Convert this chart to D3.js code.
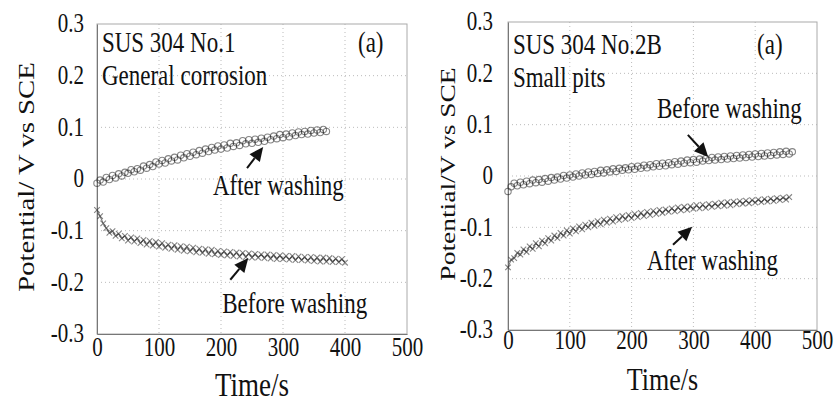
<!DOCTYPE html>
<html>
<head>
<meta charset="utf-8">
<script src="https://cdn.jsdelivr.net/npm/d3@7"></script>
<style>
  body { margin: 0; background: #fff; }
  text { font-family: "Liberation Serif", "DejaVu Serif", serif; fill: #111; }
</style>
</head>
<body>
<div id="chart"></div>
<script>
// sampling times (s)
var time = [0,5,10,15,20,25,30,35,40,45,50,55,60,65,70,75,80,85,90,95,
  100,105,110,115,120,125,130,135,140,145,150,155,160,165,170,175,180,185,190,195,
  200,205,210,215,220,225,230,235,240,245,250,255,260,265,270,275,280,285,290,295,
  300,305,310,315,320,325,330,335,340,345,350,355,360,365,370,375,380,385,390,395,
  400,405,410,415,420,425,430,435,440,445,450,455,460];

// SUS 304 No.1, potential (V vs SCE)
var leftAfter = [-0.008,-0.002,-0.006,0.003,-0.001,0.007,0.002,0.010,0.006,0.013,
  0.011,0.018,0.014,0.020,0.017,0.025,0.021,0.028,0.024,0.033,
  0.029,0.036,0.031,0.039,0.035,0.042,0.037,0.046,0.041,0.049,
  0.044,0.052,0.047,0.055,0.050,0.058,0.053,0.061,0.056,0.064,
  0.058,0.066,0.060,0.069,0.063,0.070,0.065,0.074,0.068,0.076,
  0.069,0.077,0.071,0.079,0.073,0.081,0.076,0.083,0.078,0.086,
  0.080,0.087,0.082,0.089,0.084,0.091,0.086,0.092,0.087,0.094,
  0.089,0.095,0.090,0.096,0.092];
var leftBefore = [-0.060,-0.072,-0.086,-0.095,-0.104,-0.101,-0.110,-0.106,-0.115,-0.110,
  -0.119,-0.113,-0.121,-0.115,-0.124,-0.118,-0.127,-0.120,-0.129,-0.122,
  -0.131,-0.124,-0.133,-0.127,-0.135,-0.128,-0.137,-0.130,-0.139,-0.131,
  -0.140,-0.133,-0.142,-0.135,-0.143,-0.136,-0.145,-0.137,-0.146,-0.139,
  -0.147,-0.140,-0.148,-0.141,-0.149,-0.142,-0.150,-0.143,-0.151,-0.144,
  -0.152,-0.145,-0.152,-0.146,-0.153,-0.146,-0.154,-0.147,-0.155,-0.148,
  -0.155,-0.149,-0.156,-0.149,-0.157,-0.150,-0.157,-0.151,-0.158,-0.151,
  -0.159,-0.152,-0.160,-0.152,-0.160,-0.153,-0.161,-0.154,-0.161,-0.155,
  -0.162];

// SUS 304 No.2B
var rightBefore = [-0.030,-0.021,-0.014,-0.019,-0.012,-0.017,-0.010,-0.015,-0.008,-0.013,
  -0.007,-0.012,-0.005,-0.010,-0.003,-0.008,-0.002,-0.006,0.001,-0.004,
  0.002,-0.002,0.004,0.000,0.006,0.002,0.008,0.003,0.009,0.005,
  0.011,0.006,0.012,0.008,0.014,0.009,0.015,0.011,0.016,0.012,
  0.018,0.013,0.019,0.015,0.021,0.016,0.022,0.018,0.024,0.019,
  0.025,0.020,0.026,0.022,0.028,0.023,0.029,0.025,0.031,0.026,
  0.032,0.027,0.033,0.029,0.034,0.030,0.036,0.031,0.037,0.032,
  0.038,0.033,0.039,0.034,0.040,0.035,0.041,0.036,0.042,0.037,
  0.043,0.038,0.044,0.039,0.045,0.040,0.046,0.041,0.047,0.042,
  0.048,0.043,0.047];
var rightAfter = [-0.178,-0.163,-0.160,-0.150,-0.153,-0.143,-0.148,-0.137,-0.142,-0.131,
  -0.137,-0.126,-0.131,-0.121,-0.126,-0.116,-0.121,-0.111,-0.116,-0.106,
  -0.112,-0.102,-0.108,-0.098,-0.104,-0.095,-0.100,-0.091,-0.097,-0.088,
  -0.094,-0.085,-0.091,-0.083,-0.089,-0.080,-0.086,-0.078,-0.084,-0.076,
  -0.082,-0.074,-0.080,-0.072,-0.078,-0.070,-0.076,-0.068,-0.074,-0.066,
  -0.072,-0.065,-0.070,-0.063,-0.069,-0.061,-0.067,-0.060,-0.066,-0.059,
  -0.064,-0.057,-0.063,-0.056,-0.062,-0.055,-0.060,-0.054,-0.059,-0.052,
  -0.058,-0.051,-0.057,-0.050,-0.055,-0.049,-0.054,-0.048,-0.053,-0.047,
  -0.052,-0.046,-0.051,-0.045,-0.050,-0.044,-0.049,-0.043,-0.047,-0.042,
  -0.046,-0.041];

var xTicks = [0, 100, 200, 300, 400, 500];
var yTicks = [-0.3, -0.2, -0.1, 0, 0.1, 0.2, 0.3];

var SY = 1.25; // the scan is stretched vertically, so text is too

var svg = d3.select("#chart").append("svg").attr("width", 835).attr("height", 405);

function stretched(g, x, y, size, str, anchor) {
  return g.append("text")
    .attr("transform", "translate(" + x + "," + y + ") scale(1," + SY + ")")
    .attr("font-size", size)
    .attr("text-anchor", anchor || "start")
    .text(str);
}

function arrow(g, x1, y1, x2, y2) {
  var a = Math.atan2(y2 - y1, x2 - x1), len = 14, w = 6.5;
  var bx = x2 - len * Math.cos(a), by = y2 - len * Math.sin(a);
  g.append("line").attr("x1", x1).attr("y1", y1).attr("x2", bx).attr("y2", by)
    .attr("stroke", "#111").attr("stroke-width", 2);
  g.append("path")
    .attr("d", "M" + x2 + "," + y2 +
      "L" + (bx + w * Math.sin(a)) + "," + (by - w * Math.cos(a)) +
      "L" + (bx - w * Math.sin(a)) + "," + (by + w * Math.cos(a)) + "Z")
    .attr("fill", "#111");
}

function drawPanel(p) {
  var g = svg.append("g");
  var x = d3.scaleLinear().domain([0, 500]).range([p.left, p.right]);
  var y = d3.scaleLinear().domain([-0.3, 0.3]).range([p.bottom, p.top]);

  // dotted grid
  g.append("g").selectAll("line").data(xTicks.slice(1, -1)).enter().append("line")
    .attr("x1", function(d) { return x(d); }).attr("x2", function(d) { return x(d); })
    .attr("y1", p.top).attr("y2", p.bottom)
    .attr("stroke", "#bbb").attr("stroke-dasharray", "1,3");
  g.append("g").selectAll("line").data(yTicks.slice(1, -1)).enter().append("line")
    .attr("y1", function(d) { return y(d); }).attr("y2", function(d) { return y(d); })
    .attr("x1", p.left).attr("x2", p.right)
    .attr("stroke", "#bbb").attr("stroke-dasharray", "1,3");

  g.append("rect")
    .attr("x", p.left).attr("y", p.top)
    .attr("width", p.right - p.left).attr("height", p.bottom - p.top)
    .attr("fill", "none").attr("stroke", "#aaa");

  var ya = g.append("g")
    .attr("transform", "translate(" + p.left + ",0)")
    .call(d3.axisLeft(y).tickValues(yTicks).tickSize(0).tickPadding(p.ypad)
      .tickFormat(function(d) { return d === 0 ? "0" : d.toFixed(1); }));
  ya.select(".domain").attr("stroke", "#777");
  ya.selectAll("text").attr("font-size", 21).attr("fill", "#111")
    .attr("transform", "scale(1," + SY + ")").attr("dy", "0.3em");

  var xa = g.append("g")
    .attr("transform", "translate(0," + p.bottom + ")")
    .call(d3.axisBottom(x).tickValues(xTicks).tickSize(0).tickPadding(p.xpad)
      .tickFormat(d3.format("d")));
  xa.select(".domain").attr("stroke", "#777");
  xa.selectAll("text").attr("font-size", 21).attr("fill", "#111")
    .attr("transform", "scale(1," + SY + ")");

  // series
  p.series.forEach(function(s) {
    var pts = s.values.map(function(v, i) { return [time[i], v]; });
    if (s.kind === "x") {
      g.append("path").datum(pts)
        .attr("d", d3.line().x(function(d) { return x(d[0]); }).y(function(d) { return y(d[1]); }))
        .attr("fill", "none").attr("stroke", "#444").attr("stroke-width", 1.1).attr("opacity", 0.7);
      g.append("g").selectAll("path").data(pts).enter().append("path")
        .attr("transform", function(d) { return "translate(" + x(d[0]) + "," + y(d[1]) + ")"; })
        .attr("d", d3.symbol(d3.symbolX, 22))
        .attr("fill", "none").attr("stroke", "#333").attr("stroke-width", 1.1).attr("opacity", 0.6);
    } else {
      g.append("g").selectAll("circle").data(pts).enter().append("circle")
        .attr("cx", function(d) { return x(d[0]); })
        .attr("cy", function(d) { return y(d[1]); })
        .attr("r", 3.2)
        .attr("fill", "none").attr("stroke", "#222").attr("stroke-width", 1.1).attr("opacity", 0.55);
    }
  });

  // labels and arrows, placed in data units
  p.labels.forEach(function(l) {
    stretched(g, x(l.t), y(l.v), l.size || 23, l.text, l.anchor);
  });
  p.arrows.forEach(function(a) {
    arrow(g, x(a[0]), y(a[1]), x(a[2]), y(a[3]));
  });

  stretched(g, (p.left + p.right) / 2, p.xTitleY, p.xTitleSize, "Time/s", "middle");
  g.append("text")
    .attr("transform", "translate(" + p.yTitleX + "," + ((p.top + p.bottom) / 2 - 2) + ") scale(1," + SY + ") rotate(-90)")
    .attr("font-size", p.yTitleSize)
    .attr("text-anchor", "middle")
    .text(p.yTitle);
}

drawPanel({
  left: 97, right: 407, top: 24, bottom: 334, ypad: 13, xpad: 3,
  xTitleY: 396, xTitleSize: 27, yTitleX: 34, yTitleSize: 23,
  yTitle: "Potential/ V vs SCE",
  series: [{values: leftAfter, kind: "o"}, {values: leftBefore, kind: "x"}],
  labels: [
    {t: 8, v: 0.246, text: "SUS 304 No.1"},
    {t: 421, v: 0.246, text: "(a)"},
    {t: 8, v: 0.182, text: "General corrosion"},
    {t: 187, v: -0.031, text: "After washing"},
    {t: 202, v: -0.259, text: "Before washing"}
  ],
  arrows: [[242, 0.021, 268, 0.062], [215, -0.195, 244, -0.153]]
});

drawPanel({
  left: 508, right: 817, top: 22, bottom: 330, ypad: 15, xpad: 0,
  xTitleY: 390, xTitleSize: 26, yTitleX: 455, yTitleSize: 22,
  yTitle: "Potential/V vs SCE",
  series: [{values: rightBefore, kind: "o"}, {values: rightAfter, kind: "x"}],
  labels: [
    {t: 8, v: 0.238, text: "SUS 304 No.2B"},
    {t: 403, v: 0.238, text: "(a)"},
    {t: 8, v: 0.174, text: "Small pits"},
    {t: 241, v: 0.113, text: "Before washing"},
    {t: 225, v: -0.183, text: "After washing"}
  ],
  arrows: [[291, 0.080, 324, 0.037], [267, -0.134, 298, -0.099]]
});
</script>
</body>
</html>
